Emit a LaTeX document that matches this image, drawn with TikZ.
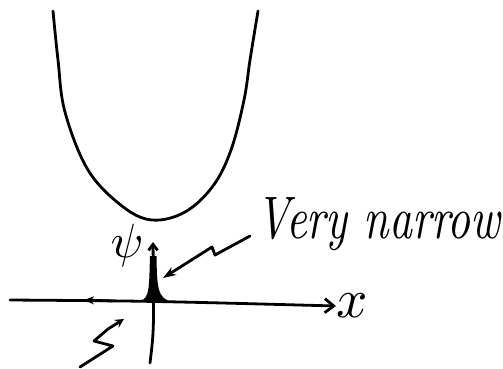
\documentclass[tikz,border=0pt]{standalone}
\usetikzlibrary{arrows.meta}
\begin{document}
\begin{tikzpicture}[x=1pt,y=-1pt,
  ink/.style={line width=2.8pt,line cap=round,line join=round},
  lbl/.style={inner sep=0pt}]
\useasboundingbox (0,0) rectangle (503,368);
% potential well
\draw[ink] plot[smooth,tension=0.6] coordinates {(53,11) (58,60) (65,112) (88,170) (122,206) (152,220) (185,212) (213,186) (231,150) (244,100) (250,60) (258,11)};
% labels
\node[lbl] (psi) at (127,245) {\scalebox{4.8}{$\psi$}};
\node[lbl,anchor=west] (xl) at (336,306) {\scalebox{5.5}{$x$}};
\node[lbl,anchor=base west] (vn) at (256,238) {\scalebox{4.5}[6]{\itshape Very narrow}};
% axes
\coordinate (xa) at (10,300);
\coordinate (yb) at (150,363);
\coordinate (yt) at (153,242);
\draw[ink,-{Straight Barb[length=9pt,width=14pt]}] (xa) .. controls (150,301) .. (xl.west);
\draw[ink,-{Straight Barb[length=6pt,width=9pt]}] (yb) .. controls (154,330) .. (yt);
% small arrow on axis
\coordinate (sa) at (112,301);
\coordinate (sb) at (84,300);
\draw[ink,-{Stealth[length=10pt,width=8pt]}] (sa) -- (sb);
% narrow peak
\fill (140,300.5) .. controls (150,299.5) and (149,285) .. (150,256) -- (156.5,256) .. controls (157,285) and (157,299.5) .. (172,301.5) -- cycle;
% arrow pointing at the peak
\coordinate (na) at (250,236);
\coordinate (nb) at (163,278);
\draw[ink,-{Stealth[length=13pt,width=9pt]}] (na) -- (215,255) -- (212,247) -- (nb);
% squiggle arrow bottom-left
\coordinate (sq0) at (80,367);
\coordinate (sq1) at (124,319);
\draw[ink,-{Stealth[length=9pt,width=9pt]}] (sq0) -- (113,346) -- (94,341) -- (108,329) -- (sq1);
\end{tikzpicture}
\end{document}
